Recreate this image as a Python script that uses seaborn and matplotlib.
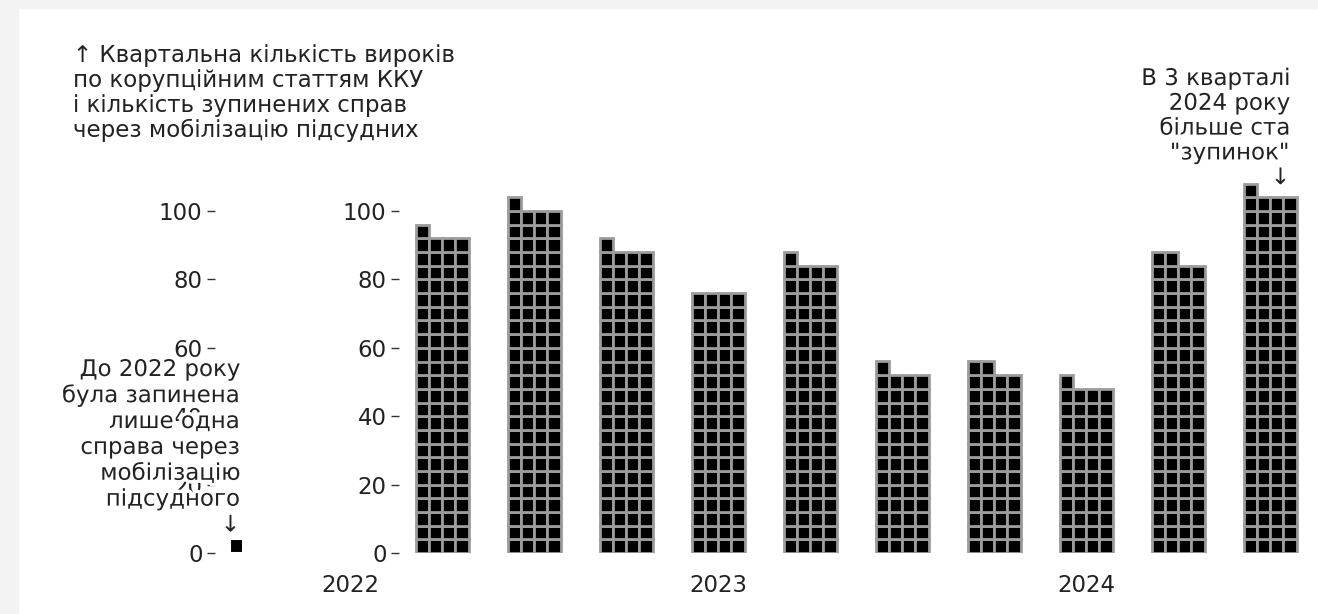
import numpy as np
import pandas as pd
import seaborn as sns
import matplotlib.pyplot as plt
from matplotlib import patheffects
from matplotlib.patches import Rectangle

# дані: кількість по кварталах (1 квадрат = 1 справа)
quarters = ["2022 Q2", "2022 Q3", "2022 Q4", "2023 Q1", "2023 Q2",
            "2023 Q3", "2023 Q4", "2024 Q1", "2024 Q2", "2024 Q3"]
values = [93, 101, 89, 76, 85, 53, 54, 49, 86, 105]
before_2022 = 1
year_ticks = [2022, 2023, 2024]
y_ticks = [0, 20, 40, 60, 80, 100]

title_txt = ("↑ Квартальна кількість вироків\nпо корупційним статтям ККУ\n"
             "і кількість зупинених справ\nчерез мобілізацію підсудних")
note_right = "В 3 кварталі\n2024 року\nбільше ста\n\"зупинок\"\n↓"
note_left = ("До 2022 року\nбула запинена\nлише одна\nсправа через\n"
             "мобілізацію\nпідсудного\n↓")

W, H = 1318, 614
PX_YEAR = 368          # пікселів на рік
BAR_W = 53 / PX_YEAR   # ширина стовпчика в роках
PER_ROW = 4
FS = 16.5              # основний розмір шрифту
FS_TICK = 16.5

sns.set_theme(style="white")
plt.rcParams["font.family"] = ["DejaVu Sans"]


def quarter_to_x(q):
    y, qq = q.split(" Q")
    return int(y) + (int(qq) - 1) / 4


def waffle_cells(pos, value, width=BAR_W, per_row=PER_ROW):
    cw = width / per_row
    rows = []
    for i in range(value):
        r, c = divmod(i, per_row)
        rows.append({"x": pos - width / 2 + (c + 0.5) * cw,
                     "bottom": r * per_row, "h": per_row, "w": cw})
    return pd.DataFrame(rows)


def draw_cells(ax, cells, edge="#9c9c9c", lw=2.0):
    ax.bar(cells["x"], cells["h"], bottom=cells["bottom"], width=cells["w"],
           color="black", edgecolor=edge, linewidth=lw)


fig = plt.figure(figsize=(W / 100, H / 100), dpi=100, facecolor="white")

# світлий фон по краях
fig.patches.append(Rectangle((0, 0), 18 / W, 1, transform=fig.transFigure,
                             color="#f3f3f3", zorder=-1))
fig.patches.append(Rectangle((0, 1 - 8 / H), 1, 8 / H, transform=fig.transFigure,
                             color="#f3f3f3", zorder=-1))

y0_px, ytop_px = 553, 170
ylim = (0, 112)
ax_h = (y0_px - ytop_px) / H
ax_b = (H - y0_px) / H

# основна панель
ax = fig.add_axes([300 / W, ax_b, 1000 / W, ax_h])
ax.set_facecolor("none")
for q, v in zip(quarters, values):
    draw_cells(ax, waffle_cells(quarter_to_x(q), v))
ax.set_xlim(2022 + (300 - 350) / PX_YEAR, 2022 + (1300 - 350) / PX_YEAR)
ax.set_ylim(*ylim)
ax.spines["left"].set_position(("data", 2022 + 49 / PX_YEAR))
for s in ax.spines.values():
    s.set_visible(False)
ax.set_yticks(y_ticks)
ax.set_xticks(year_ticks)
ax.set_xticklabels([str(y) for y in year_ticks])
ax.tick_params(axis="y", left=True, length=6, width=1, color="#333333",
               labelsize=FS_TICK, labelcolor="#222222", pad=3)
ax.tick_params(axis="x", bottom=True, length=0, labelsize=FS_TICK,
               labelcolor="#222222", pad=15)
ax.grid(False)

# панель "до 2022"
ax2 = fig.add_axes([215 / W, ax_b, 45 / W, ax_h])
ax2.set_facecolor("none")
before_pos = 21.5 / PX_YEAR + BAR_W / 2 - BAR_W / PER_ROW / 2
draw_cells(ax2, waffle_cells(before_pos, before_2022), edge="white", lw=1.5)
ax2.set_xlim(0, 45 / PX_YEAR)
ax2.set_ylim(*ylim)
for s in ax2.spines.values():
    s.set_visible(False)
ax2.set_yticks(y_ticks)
ax2.set_xticks([])
ax2.tick_params(axis="y", left=True, length=6, width=1, color="#333333",
                labelsize=FS_TICK, labelcolor="#222222", pad=3)
ax2.grid(False)

halo = [patheffects.withStroke(linewidth=5, foreground="white")]

fig.text(73 / W, 1 - 44 / H, title_txt, ha="left", va="top", fontsize=FS,
         color="#222222", linespacing=1.1)
fig.text(1290 / W, 1 - 67 / H, note_right, ha="right", va="top", fontsize=FS,
         color="#222222", linespacing=1.1, path_effects=halo, zorder=5)
fig.text(240 / W, 1 - 358 / H, note_left, ha="right", va="top", fontsize=FS,
         color="#222222", linespacing=1.16, path_effects=halo, zorder=5)

fig.savefig("out.png", dpi=100, facecolor="white")
